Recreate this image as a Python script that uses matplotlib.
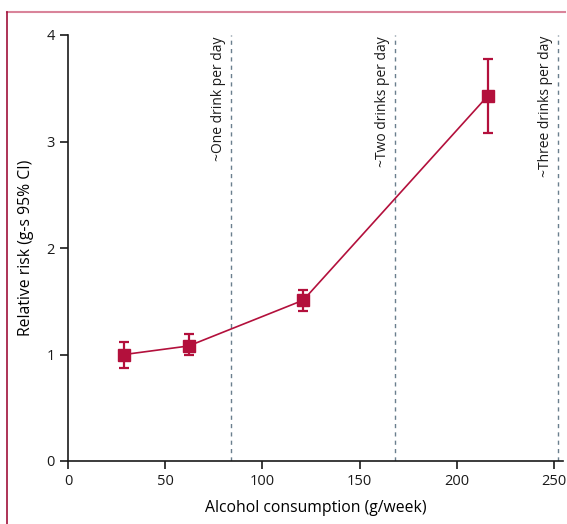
import matplotlib
matplotlib.use('Agg')
import matplotlib.pyplot as plt
from matplotlib.lines import Line2D

plt.rcParams['font.family'] = ['Open Sans', 'DejaVu Sans']

# data
alcohol = [29, 62, 121, 216]
rr = [1.00, 1.08, 1.51, 3.43]
rr_low = [0.87, 1.00, 1.41, 3.08]
rr_high = [1.12, 1.19, 1.61, 3.77]

drink_lines = [84, 168, 252]
drink_labels = ['~One drink per day', '~Two drinks per day', '~Three drinks per day']

red = '#b3103c'
dash_col = '#6a7f8e'

fig = plt.figure(figsize=(5.67, 5.24), dpi=100)
ax = fig.add_axes([68 / 567, 1 - 461 / 524, (563 - 68) / 567, (461 - 35) / 524])

for x, lab in zip(drink_lines, drink_labels):
    ax.axvline(x, color=dash_col, lw=1, ls=(0, (3, 3)), zorder=1)
    ax.text(x - 2.5, 3.99, lab, rotation=90, ha='right', va='top', fontsize=10, color='#1a1a1a')

err = [[r - l for r, l in zip(rr, rr_low)], [h - r for r, h in zip(rr, rr_high)]]
ax.errorbar(alcohol, rr, yerr=err, color=red, ecolor=red, lw=1.2, elinewidth=1.6,
            capsize=3.5, capthick=1.6, marker='s', markersize=8, zorder=3)

ax.set_xlim(0, 254.6)
ax.set_ylim(0, 4)
ax.set_xticks([0, 50, 100, 150, 200, 250])
ax.set_yticks([0, 1, 2, 3, 4])
ax.spines['top'].set_visible(False)
ax.spines['right'].set_visible(False)
for s in ['left', 'bottom']:
    ax.spines[s].set_linewidth(1.2)
    ax.spines[s].set_color('#1a1a1a')
ax.tick_params(direction='out', length=6, width=1.2, labelsize=10.5, colors='#1a1a1a')
ax.set_xlabel('Alcohol consumption (g/week)', fontsize=11.3, labelpad=8)
ax.set_ylabel('Relative risk (g-s 95% CI)', fontsize=11.3, labelpad=9)

# panel frame
fig.add_artist(Line2D([7 / 567, 565 / 567], [1 - 12 / 524, 1 - 12 / 524],
                      transform=fig.transFigure, color='#d9849a', lw=1.5))
fig.add_artist(Line2D([7 / 567, 7 / 567], [0, 1 - 12 / 524],
                      transform=fig.transFigure, color='#a0103a', lw=1.2))

fig.savefig('out.png', dpi=100)
